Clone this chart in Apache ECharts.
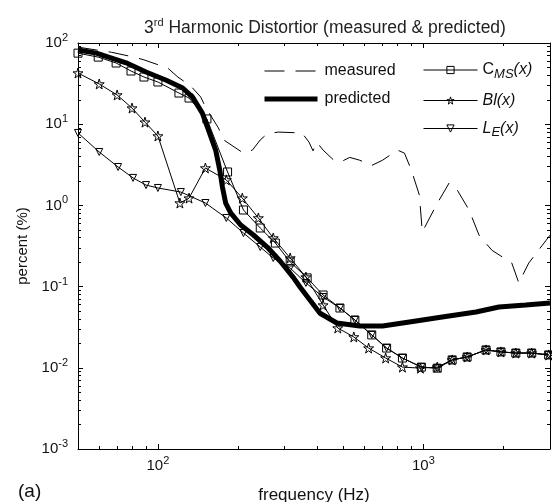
<!DOCTYPE html>
<html>
<head>
<meta charset="utf-8">
<script src="https://cdn.jsdelivr.net/npm/echarts@6/dist/echarts.min.js"></script>
<style>
  html, body { margin: 0; padding: 0; background: #fff; }
  #chart { width: 552px; height: 502px; }
</style>
</head>
<body>
<div id="chart"></div>
<script>
// axis ranges and tick positions
const xRange = [50, 3000];
const yRange = [0.001, 100];
const xMajor = [100, 1000];
const xMinor = [60, 70, 80, 90, 200, 300, 400, 500, 600, 700, 800, 900, 2000, 3000];
const yMajor = [0.001, 0.01, 0.1, 1, 10, 100];
const yMinor = [0.002, 0.003, 0.004, 0.005, 0.006, 0.007, 0.008, 0.009,
  0.02, 0.03, 0.04, 0.05, 0.06, 0.07, 0.08, 0.09,
  0.2, 0.3, 0.4, 0.5, 0.6, 0.7, 0.8, 0.9,
  2, 3, 4, 5, 6, 7, 8, 9,
  20, 30, 40, 50, 60, 70, 80, 90];

// measured (dashed)
const measuredFreq = [50, 58.6, 66.7, 81.3, 88.6, 109, 119, 133, 145, 151, 169, 177, 210, 227, 243, 258, 284, 349, 371, 384,
  397, 419, 460, 485, 528, 576, 638, 702, 799, 849, 902, 966, 991, 1119, 1251, 1341, 1486, 1621, 1813, 2154, 2289, 2495, 3000];
const measuredVal = [89, 82, 77, 67, 62, 49, 38, 29.5, 21.6, 16.3, 9.0, 6.4, 4.4, 4.8, 6.4, 7.6, 8.0, 7.8, 6.0, 4.7,
  6.0, 4.8, 3.6, 3.4, 3.9, 3.6, 3.1, 3.6, 4.8, 4.4, 2.7, 1.34, 0.47, 1.01, 1.89, 1.55, 0.88, 0.43, 0.28, 0.195, 0.111, 0.195, 0.43];

// predicted (thick)
const predictedFreq = [50, 58.6, 75.9, 90.2, 107, 124, 135, 147, 155, 165, 171, 175, 180, 188, 205, 229, 258, 289, 323, 343,
  408, 472, 576, 702, 886, 1178, 1579, 1926, 2430, 3000];
const predictedVal = [82, 75, 57, 44, 35, 27.9, 21.6, 13.7, 8.5, 4.8, 2.73, 1.69, 1.07, 0.81, 0.574, 0.432, 0.307, 0.205, 0.131, 0.099,
  0.047, 0.0356, 0.0327, 0.0327, 0.0367, 0.0423, 0.0487, 0.0561, 0.0594, 0.0628];

// C_MS(x)
const cmsFreq = [50, 59.6, 69.6, 79.2, 88.6, 100, 120, 131, 153, 183, 210, 243, 277, 315, 365, 419, 485, 552, 639, 727,
  834, 983, 1128, 1284, 1462, 1722, 1960, 2230, 2560, 2965];
const cmsVal = [75, 67, 56.7, 45.2, 38.1, 33.1, 24.2, 21.0, 11.6, 2.58, 0.878, 0.527, 0.344, 0.201, 0.128, 0.0788, 0.0545, 0.0388, 0.0254, 0.0175,
  0.0132, 0.0102, 0.0099, 0.0125, 0.0136, 0.0166, 0.0157, 0.0152, 0.0152, 0.0144];

// Bl(x)
const blFreq = [50, 60.1, 70.2, 79.9, 89.4, 100, 121, 131, 151, 181, 208, 239, 272, 315, 361, 419, 476, 547, 622, 721,
  834, 975, 1128, 1284, 1462, 1722, 1960, 2230, 2560, 2965];
const blVal = [42.7, 31.3, 22.9, 15.8, 10.6, 7.16, 1.07, 1.23, 2.89, 2.06, 1.23, 0.70, 0.397, 0.225, 0.131, 0.0593, 0.0309, 0.024, 0.0175, 0.0132,
  0.0102, 0.0099, 0.0102, 0.0125, 0.0136, 0.0166, 0.0157, 0.0152, 0.0152, 0.0144];

// L_E(x)
const leFreq = [50, 60.1, 70.8, 80.6, 90.2, 100, 122, 151, 181, 210, 243, 272, 315, 361, 419, 485, 552, 639, 727, 834,
  983, 1128, 1284, 1462, 1722, 1960, 2230, 2560, 2965];
const leVal = [7.8, 4.55, 2.97, 2.18, 1.78, 1.64, 1.46, 1.07, 0.70, 0.457, 0.307, 0.225, 0.169, 0.111, 0.0744, 0.0545, 0.0388, 0.0254, 0.0175, 0.0132,
  0.0102, 0.0099, 0.0125, 0.0136, 0.0166, 0.0157, 0.0152, 0.0152, 0.0144];

const FONT = 'Liberation Sans, Arial, Helvetica, sans-serif';
const STAR = 'path://M50,0 L61,35 L98,35 L68,57 L79,91 L50,70 L21,91 L32,57 L2,35 L39,35 Z';
const HOLLOW = { color: 'rgba(0,0,0,0)', borderColor: '#000', borderWidth: 1 };
const CLEAR = 'rgba(0,0,0,0)';

const pairs = (xs, ys) => xs.map((x, i) => [x, ys[i]]);

// only decades get a label, written as 10 with a superscript power
const powLabel = v => {
  const p = Math.log10(v);
  if (Math.abs(p - Math.round(p)) > 1e-6) return '';
  return '{b|10}{sup|' + Math.round(p) + '}';
};
const powRich = {
  b: { fontSize: 15, fontFamily: FONT, color: '#111', lineHeight: 21 },
  sup: { fontSize: 11, fontFamily: FONT, color: '#111', verticalAlign: 'top', lineHeight: 11 }
};

// log axis; the extra copies only carry the inward ticks on each side of the box
// (splitLine has to stay "shown" - transparent - or v6 drops the ticks)
function logAxis(range, position, ticks, len, showLine, extra) {
  return Object.assign({
    type: 'log',
    position: position,
    min: range[0],
    max: range[1],
    axisLine: { show: showLine, onZero: false, lineStyle: { color: '#000', width: 1 } },
    axisTick: {
      show: true, inside: true, length: len, customValues: ticks,
      lineStyle: { color: '#000', width: 1 }
    },
    axisLabel: { color: CLEAR },
    splitLine: { show: true, lineStyle: { color: CLEAR } }
  }, extra || {});
}

const chart = echarts.init(document.getElementById('chart'), null, { renderer: 'canvas' });

const option = {
  animation: false,
  backgroundColor: '#fff',
  textStyle: { fontFamily: FONT },
  title: [
    {
      text: '{n|3}{sup|rd}{n| Harmonic Distortior (measured & predicted)}',
      left: 320,
      top: 12,
      textAlign: 'center',
      textStyle: {
        fontWeight: 'normal',
        rich: {
          n: { fontSize: 17.5, fontWeight: 'normal', fontFamily: FONT, color: '#222', lineHeight: 22 },
          sup: { fontSize: 11, fontWeight: 'normal', fontFamily: FONT, color: '#222', verticalAlign: 'top', lineHeight: 10 }
        }
      }
    },
    {
      text: '(a)',
      left: 13,
      top: 477,
      textStyle: { fontSize: 19, fontWeight: 'normal', fontFamily: FONT, color: '#111' }
    }
  ],
  grid: { left: 78, right: 2, top: 43, bottom: 53, containLabel: false, outerBoundsMode: 'none' },
  xAxis: [
    logAxis(xRange, 'bottom', xMajor, 5, true, {
      axisLabel: { margin: 6, formatter: powLabel, rich: powRich },
      name: 'frequency (Hz)',
      nameLocation: 'middle',
      nameGap: 38,
      nameMoveOverlap: false,
      nameTextStyle: { fontSize: 17, fontFamily: FONT, color: '#111' }
    }),
    logAxis(xRange, 'bottom', xMinor, 3, false),
    logAxis(xRange, 'top', xMajor, 5, true),
    logAxis(xRange, 'top', xMinor, 3, false)
  ],
  yAxis: [
    logAxis(yRange, 'left', yMajor, 5, true, {
      axisLabel: { margin: 10, formatter: powLabel, rich: powRich },
      name: 'percent (%)',
      nameLocation: 'middle',
      nameGap: 48,
      nameRotate: 90,
      nameMoveOverlap: false,
      nameTextStyle: { fontSize: 15, fontFamily: FONT, color: '#111' }
    }),
    logAxis(yRange, 'left', yMinor, 3, false),
    logAxis(yRange, 'right', yMajor, 5, true),
    logAxis(yRange, 'right', yMinor, 3, false)
  ],
  legend: [
    {
      data: [
        { name: 'measured', itemStyle: { opacity: 0 }, lineStyle: { width: 1, type: [20, 11], color: '#000' } },
        { name: 'predicted', itemStyle: { opacity: 0 }, lineStyle: { width: 5, color: '#000' } }
      ],
      orient: 'vertical',
      left: 262,
      top: 63,
      padding: 0,
      itemWidth: 53,
      itemHeight: 14,
      itemGap: 12,
      textStyle: { fontSize: 16, fontFamily: FONT, color: '#111', padding: [0, 0, 0, 2] }
    },
    {
      data: [
        { name: 'C_MS(x)', itemStyle: HOLLOW, lineStyle: { width: 1, color: '#000' } },
        { name: 'Bl(x)', itemStyle: HOLLOW, lineStyle: { width: 1, color: '#000' } },
        { name: 'L_E(x)', itemStyle: HOLLOW, lineStyle: { width: 1, color: '#000' } }
      ],
      orient: 'vertical',
      left: 423,
      top: 62,
      padding: 0,
      itemWidth: 54,
      itemHeight: 9,
      itemGap: 12,
      formatter: function (name) {
        if (name === 'C_MS(x)') return '{n|C}{sub|MS}{i|(x)}';
        if (name === 'Bl(x)') return '{i|Bl(x)}';
        return '{i|L}{sub|E}{i|(x)}';
      },
      textStyle: {
        rich: {
          n: { fontSize: 16, fontFamily: FONT, color: '#111', lineHeight: 21 },
          i: { fontSize: 16, fontFamily: FONT, fontStyle: 'italic', color: '#111', lineHeight: 21 },
          sub: { fontSize: 13, fontFamily: FONT, fontStyle: 'italic', color: '#111', verticalAlign: 'bottom', lineHeight: 13 }
        }
      }
    }
  ],
  series: [
    {
      name: 'measured',
      type: 'line',
      data: pairs(measuredFreq, measuredVal),
      showSymbol: false,
      symbol: 'none',
      lineStyle: { color: '#000', width: 1, type: [20, 11] },
      itemStyle: { color: '#000' },
      z: 2
    },
    {
      name: 'predicted',
      type: 'line',
      data: pairs(predictedFreq, predictedVal),
      showSymbol: false,
      symbol: 'none',
      lineStyle: { color: '#000', width: 5 },
      itemStyle: { color: '#000' },
      z: 3
    },
    {
      name: 'C_MS(x)',
      type: 'line',
      data: pairs(cmsFreq, cmsVal),
      symbol: 'rect',
      symbolSize: 8,
      showAllSymbol: true,
      lineStyle: { color: '#000', width: 1 },
      itemStyle: HOLLOW,
      z: 4
    },
    {
      name: 'Bl(x)',
      type: 'line',
      data: pairs(blFreq, blVal),
      symbol: STAR,
      symbolSize: 10,
      showAllSymbol: true,
      lineStyle: { color: '#000', width: 1 },
      itemStyle: HOLLOW,
      z: 4
    },
    {
      name: 'L_E(x)',
      type: 'line',
      data: pairs(leFreq, leVal),
      symbol: 'triangle',
      symbolRotate: 180,
      symbolSize: 7,
      showAllSymbol: true,
      lineStyle: { color: '#000', width: 1 },
      itemStyle: HOLLOW,
      z: 4
    }
  ]
};

chart.setOption(option);
window.addEventListener('resize', () => chart.resize());
</script>
</body>
</html>
